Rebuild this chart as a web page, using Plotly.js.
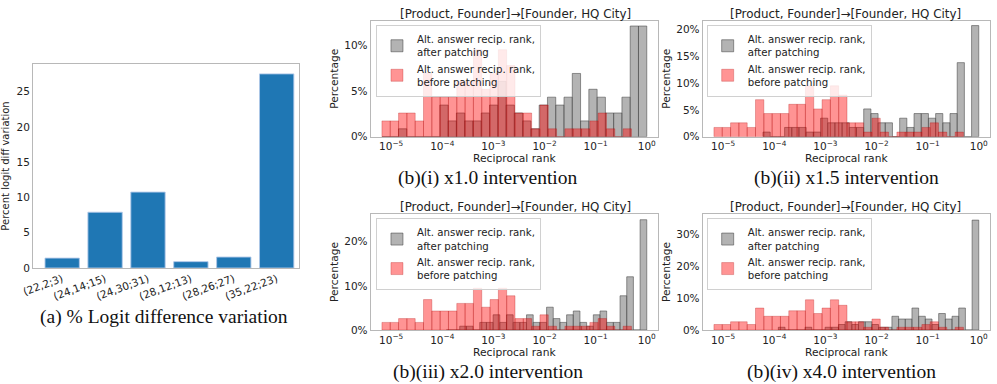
<!DOCTYPE html>
<html>
<head>
<meta charset="utf-8">
<script src="https://cdn.plot.ly/plotly-3.0.1.min.js"></script>
<style>
  html, body { margin: 0; padding: 0; background: #fff; }
  #plot { width: 997px; height: 384px; }
</style>
</head>
<body>
<div id="plot"></div>
<script>
// (a) % logit difference variation per head group
var headLabels = ["(22,2;3)", "(24,14;15)", "(24,30;31)", "(28,12;13)", "(28,26;27)", "(35,22;23)"];
var logitVariation = [1.4, 7.9, 10.75, 0.9, 1.55, 27.5];

// (b) histograms over log10(reciprocal rank), counts out of all prompts
var totalPrompts = 116;

// before patching does not depend on the intervention, same in every panel
var redBefore = [2, 2, 3, 3, 2, 8, 5, 5, 5, 7, 7, 11, 6, 8, 11, 9, 3, 3, 1, 4, 1, 0, 1, 1, 1, 2, 3, 1, 0, 1];
var redRange = [-5.18, -0.30];

var grayAfter1 = [0, 0, 1, 0, 0, 0, 0, 4, 2, 3, 2, 2, 3, 4, 7, 4, 3, 2, 1, 4, 5, 4, 5, 8, 2, 6, 5, 3, 3, 5, 14, 14];
var grayRange1 = [-5.18, 0];
var grayAfter2 = [1, 0, 0, 2, 2, 2, 1, 1, 4, 3, 3, 3, 2, 2, 6, 5, 3, 3, 0, 4, 2, 5, 5, 4, 5, 3, 5, 16, 0, 24];
var grayRange2 = [-4.22, 0];
var grayAfter3 = [0, 0, 1, 1, 0, 2, 2, 4, 2, 4, 2, 2, 4, 2, 2, 6, 3, 2, 4, 5, 2, 1, 4, 5, 2, 2, 9, 14, 0, 29];
var grayRange3 = [-3.92, 0];
var grayAfter4 = [1, 0, 0, 0, 1, 0, 0, 1, 1, 2, 3, 2, 3, 3, 2, 1, 1, 5, 4, 4, 8, 5, 4, 2, 6, 4, 5, 8, 0, 40];
var grayRange4 = [-3.92, 0];

var decadeTicks = [-5, -4, -3, -2, -1, 0];
var decadeLabels = ["10<sup>\u22125</sup>", "10<sup>\u22124</sup>", "10<sup>\u22123</sup>",
                    "10<sup>\u22122</sup>", "10<sup>\u22121</sup>", "10<sup>0</sup>"];

var panelTitle = "[Product, Founder]\u2192[Founder, HQ City]";
var grayName = "Alt. answer recip. rank,<br>after patching";
var redName = "Alt. answer recip. rank,<br>before patching";

var sans = "DejaVu Sans, sans-serif";
var serif = "Liberation Serif, Times New Roman, serif";

function histTrace(counts, range, name, fill, edge, n, legendId) {
  var w = (range[1] - range[0]) / counts.length;
  return {
    type: "bar",
    x: counts.map((c, i) => range[0] + (i + 0.5) * w),
    y: counts.map(c => c * 100 / totalPrompts),
    width: w,
    name: name,
    marker: { color: fill, line: { color: edge, width: 0.8 } },
    xaxis: "x" + n,
    yaxis: "y" + n,
    legend: legendId,
    hoverinfo: "skip"
  };
}

var grayFill = "rgba(128,128,128,0.6)", grayEdge = "rgba(70,70,70,0.7)";
var redFill = "rgba(255,0,0,0.42)", redEdge = "rgba(170,0,0,0.35)";

var traces = [{
  type: "bar",
  x: headLabels,
  y: logitVariation,
  width: 0.8,
  marker: { color: "#1f77b4", line: { color: "rgba(174,199,232,0.9)", width: 1 } },
  showlegend: false,
  hoverinfo: "skip"
}];

var grays = [[grayAfter1, grayRange1], [grayAfter2, grayRange2], [grayAfter3, grayRange3], [grayAfter4, grayRange4]];
var legendIds = ["legend", "legend2", "legend3", "legend4"];
grays.forEach(function (g, i) {
  traces.push(histTrace(g[0], g[1], grayName, grayFill, grayEdge, i + 2, legendIds[i]));
  traces.push(histTrace(redBefore, redRange, redName, redFill, redEdge, i + 2, legendIds[i]));
});

var tickFont = { family: sans, size: 10.5, color: "#222" };
var labelFont = { family: sans, size: 10.7, color: "#222" };
var frame = { showline: true, mirror: true, linecolor: "#b8b8b8", linewidth: 1,
              showgrid: false, zeroline: false, ticks: "", tickfont: tickFont };

function histX(domain, anchor) {
  return Object.assign({}, frame, {
    domain: domain, anchor: anchor, range: [-5.40, 0.22],
    tickvals: decadeTicks, ticktext: decadeLabels,
    title: { text: "Reciprocal rank", font: labelFont, standoff: 1 }
  });
}
function histY(domain, anchor, top, step) {
  return Object.assign({}, frame, {
    domain: domain, anchor: anchor, range: [0, top], dtick: step, ticksuffix: "%",
    title: { text: "Percentage", font: labelFont, standoff: 3 }
  });
}
function legendAt(x, y) {
  return { x: x, y: y, xanchor: "left", yanchor: "top", bgcolor: "rgba(255,255,255,0.8)",
           bordercolor: "#d0d0d0", borderwidth: 1, font: { family: sans, size: 10.2, color: "#222" },
           tracegroupgap: 0, itemwidth: 30 };
}

var colL = [0.3718, 0.6600], colR = [0.7048, 0.9930];
var rowT = [0.6440, 0.9461], rowB = [0.1406, 0.4427];

var layout = {
  width: 997, height: 384,
  margin: { l: 0, r: 0, t: 0, b: 0 },
  paper_bgcolor: "#fff", plot_bgcolor: "#fff",
  barmode: "overlay", bargap: 0,
  xaxis: Object.assign({}, frame, {
    domain: [0.0331, 0.2999], anchor: "y", range: [-0.68, 5.52],
    tickangle: -20, tickfont: { family: sans, size: 10.5, color: "#222" }
  }),
  yaxis: Object.assign({}, frame, {
    domain: [0.3021, 0.8333], anchor: "x", range: [0, 28.9], dtick: 5,
    tickfont: { family: sans, size: 10.5, color: "#222" },
    title: { text: "Percent logit diff variation", font: { family: sans, size: 10, color: "#222" }, standoff: 6 }
  }),
  xaxis2: histX(colL, "y2"), yaxis2: histY(rowT, "x2", 12.65, 5),
  xaxis3: histX(colR, "y3"), yaxis3: histY(rowT, "x3", 21.6, 5),
  xaxis4: histX(colL, "y4"), yaxis4: histY(rowB, "x4", 26.3, 10),
  xaxis5: histX(colR, "y5"), yaxis5: histY(rowB, "x5", 36.4, 10),
  legend: legendAt(0.3771, 0.9349),
  legend2: legendAt(0.7088, 0.9349),
  legend3: legendAt(0.3771, 0.4315),
  legend4: legendAt(0.7088, 0.4315),
  annotations: [
    { text: "(a) % Logit difference variation", x: 0.1645, y: 0.1745 },
    { text: "(b)(i) x1.0 intervention", x: 0.489, y: 0.5365 },
    { text: "(b)(ii) x1.5 intervention", x: 0.8493, y: 0.5365 },
    { text: "(b)(iii) x2.0 intervention", x: 0.4895, y: 0.0313 },
    { text: "(b)(iv) x4.0 intervention", x: 0.8445, y: 0.0313 }
  ].map(a => Object.assign(a, { xref: "paper", yref: "paper", showarrow: false,
      xanchor: "center", yanchor: "middle", font: { family: serif, size: 19.5, color: "#111" } }))
  .concat([[0.5175, 0.9635], [0.8485, 0.9635], [0.5175, 0.4617], [0.8485, 0.4617]].map(p => ({
      text: panelTitle, x: p[0], y: p[1], xref: "paper", yref: "paper", showarrow: false,
      xanchor: "center", yanchor: "middle", font: { family: sans, size: 11.9, color: "#222" } })))
};

Plotly.newPlot("plot", traces, layout, { staticPlot: true, displayModeBar: false });
</script>
</body>
</html>
